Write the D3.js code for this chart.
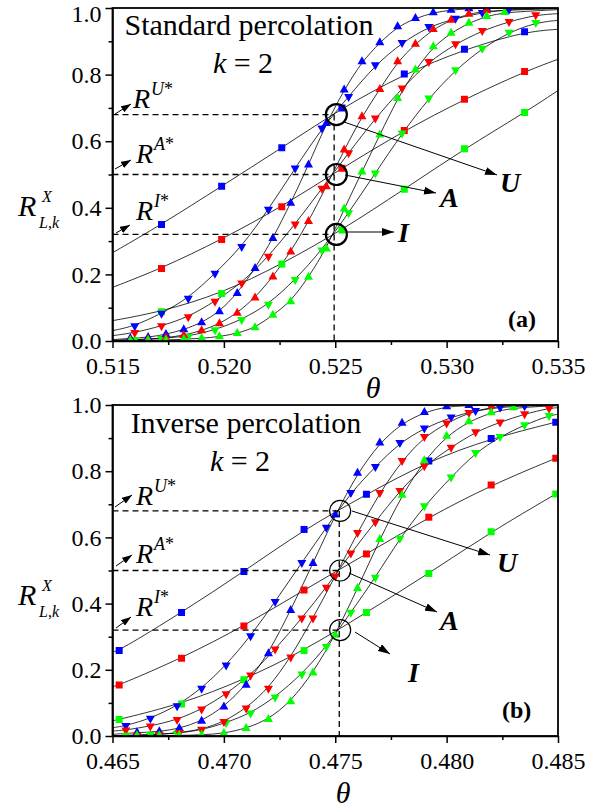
<!DOCTYPE html>
<html><head><meta charset="utf-8">
<script src="https://cdn.jsdelivr.net/npm/d3@7"></script>
<style>
body{margin:0;background:#fff}
svg{display:block}
svg text{font-family:"Liberation Serif","Tinos","Times New Roman",Times,serif !important;fill:#000}
</style>
</head><body>
<svg id="c" width="604" height="812"></svg>
<script>
// ---------------- DATA ----------------
const topThetaTicks = [0.515, 0.520, 0.525, 0.530, 0.535];
const botThetaTicks = [0.465, 0.470, 0.475, 0.480, 0.485];
const rTicks = [0.0, 0.2, 0.4, 0.6, 0.8, 1.0];
const rStar = [0.68, 0.50, 0.32];           // U*, A*, I*
const starNames = ["U", "A", "I"];
const topThetaStar = 0.52495;
const botThetaStar = 0.47518;

// Top panel (standard percolation): [theta, R]
const topBlueSq = [[0.5172,0.350],[0.5199,0.465],[0.5226,0.580],[0.5253,0.700],[0.5281,0.802],[0.5308,0.876],[0.5335,0.929]];
const topRedSq  = [[0.5172,0.218],[0.5199,0.305],[0.5226,0.403],[0.5253,0.519],[0.5281,0.632],[0.5308,0.726],[0.5335,0.809]];
const topGreenSq= [[0.5172,0.088],[0.5199,0.143],[0.5226,0.231],[0.5253,0.333],[0.5281,0.456],[0.5308,0.577],[0.5335,0.686]];
const topBlueDn = [[0.5160,0.045],[0.5172,0.083],[0.5184,0.128],[0.5196,0.203],[0.5208,0.283],[0.5220,0.395],[0.5232,0.519],[0.5244,0.639],[0.5256,0.734],[0.5268,0.829],[0.5280,0.896],[0.5292,0.944],[0.5304,0.969],[0.5316,0.986],[0.5328,0.996]];
const topRedDn  = [[0.5160,0.025],[0.5172,0.045],[0.5184,0.072],[0.5196,0.119],[0.5208,0.174],[0.5220,0.254],[0.5232,0.351],[0.5244,0.458],[0.5256,0.565],[0.5268,0.669],[0.5280,0.759],[0.5292,0.839],[0.5304,0.892],[0.5316,0.932],[0.5328,0.959],[0.5340,0.979]];
const topGreenDn= [[0.5160,0.004],[0.5172,0.008],[0.5184,0.014],[0.5196,0.033],[0.5208,0.064],[0.5220,0.110],[0.5232,0.184],[0.5244,0.273],[0.5256,0.385],[0.5268,0.504],[0.5280,0.624],[0.5292,0.729],[0.5304,0.814],[0.5316,0.879],[0.5328,0.927],[0.5340,0.956]];
const topBlueUp = [[0.5158,0.008],[0.5166,0.011],[0.5174,0.020],[0.5182,0.034],[0.5190,0.055],[0.5198,0.088],[0.5206,0.143],[0.5214,0.218],[0.5222,0.308],[0.5230,0.414],[0.5238,0.529],[0.5246,0.654],[0.5254,0.754],[0.5262,0.839],[0.5270,0.896],[0.5278,0.944],[0.5286,0.969],[0.5294,0.986],[0.5302,0.994],[0.5310,0.998],[0.5318,0.999]];
const topRedUp  = [[0.5158,0.003],[0.5166,0.005],[0.5174,0.010],[0.5182,0.017],[0.5190,0.031],[0.5198,0.052],[0.5206,0.084],[0.5214,0.130],[0.5222,0.193],[0.5230,0.268],[0.5238,0.359],[0.5246,0.464],[0.5254,0.574],[0.5262,0.674],[0.5270,0.756],[0.5278,0.839],[0.5286,0.892],[0.5294,0.936],[0.5302,0.964],[0.5310,0.982],[0.5318,0.992]];
const topGreenUp= [[0.5158,0.001],[0.5166,0.002],[0.5174,0.003],[0.5182,0.005],[0.5190,0.008],[0.5198,0.013],[0.5206,0.023],[0.5214,0.040],[0.5222,0.078],[0.5230,0.118],[0.5238,0.192],[0.5246,0.277],[0.5254,0.397],[0.5262,0.508],[0.5270,0.619],[0.5278,0.729],[0.5286,0.814],[0.5294,0.884],[0.5302,0.925],[0.5310,0.955],[0.5318,0.975],[0.5326,0.987]];
// fitted-curve values at the left / right edges of the top panel
const topFitEdges = {
  blueSq:[0.265,0.936], redSq:[0.161,0.846], greenSq:[0.061,0.752],
  blueDn:[0.031,0.999], redDn:[0.016,0.983], greenDn:[0.002,0.963],
  blueUp:[0.004,1.0],   redUp:[0.001,0.998], greenUp:[0.0005,0.995]
};

// Bottom panel (inverse percolation): [theta, R]
const botBlueSq = [[0.4653,0.258],[0.4681,0.373],[0.4709,0.497],[0.4736,0.624],[0.4764,0.730],[0.4792,0.831],[0.4820,0.899],[0.4849,0.948]];
const botRedSq  = [[0.4653,0.154],[0.4681,0.235],[0.4709,0.332],[0.4736,0.441],[0.4764,0.550],[0.4792,0.661],[0.4820,0.758],[0.4849,0.839]];
const botGreenSq= [[0.4653,0.050],[0.4681,0.097],[0.4709,0.170],[0.4736,0.258],[0.4764,0.373],[0.4792,0.491],[0.4820,0.617],[0.4849,0.731]];
const botBlueDn = [[0.4656,0.031],[0.4667,0.053],[0.4679,0.091],[0.4690,0.144],[0.4701,0.214],[0.4712,0.302],[0.4723,0.406],[0.4735,0.524],[0.4746,0.630],[0.4757,0.735],[0.4768,0.814],[0.4779,0.886],[0.4790,0.930],[0.4802,0.963],[0.4813,0.983],[0.4824,0.993],[0.4835,0.997]];
const botRedDn  = [[0.4656,0.018],[0.4667,0.030],[0.4679,0.049],[0.4690,0.081],[0.4701,0.127],[0.4712,0.184],[0.4723,0.262],[0.4735,0.356],[0.4746,0.449],[0.4757,0.552],[0.4768,0.647],[0.4779,0.741],[0.4790,0.816],[0.4802,0.872],[0.4813,0.919],[0.4824,0.948],[0.4835,0.973],[0.4846,0.990]];
const botGreenDn= [[0.4656,0.002],[0.4667,0.004],[0.4679,0.008],[0.4690,0.018],[0.4701,0.040],[0.4712,0.069],[0.4723,0.117],[0.4735,0.187],[0.4746,0.270],[0.4757,0.373],[0.4768,0.479],[0.4779,0.597],[0.4790,0.695],[0.4802,0.782],[0.4813,0.856],[0.4824,0.904],[0.4835,0.940],[0.4846,0.968]];
const botBlueUp = [[0.4661,0.010],[0.4671,0.013],[0.4680,0.023],[0.4690,0.045],[0.4700,0.088],[0.4710,0.154],[0.4720,0.249],[0.4730,0.380],[0.4740,0.522],[0.4750,0.668],[0.4760,0.794],[0.4770,0.886],[0.4780,0.945],[0.4790,0.978],[0.4800,0.995],[0.4810,0.999]];
const botRedUp  = [[0.4661,0.002],[0.4671,0.005],[0.4680,0.010],[0.4690,0.020],[0.4700,0.043],[0.4710,0.084],[0.4720,0.144],[0.4730,0.238],[0.4740,0.356],[0.4750,0.483],[0.4760,0.614],[0.4770,0.735],[0.4780,0.832],[0.4790,0.904],[0.4800,0.945],[0.4810,0.977],[0.4820,0.993],[0.4830,0.999]];
const botGreenUp= [[0.4661,0.001],[0.4671,0.001],[0.4680,0.002],[0.4690,0.003],[0.4700,0.008],[0.4710,0.023],[0.4720,0.050],[0.4730,0.104],[0.4740,0.191],[0.4750,0.305],[0.4760,0.446],[0.4770,0.594],[0.4780,0.728],[0.4790,0.832],[0.4800,0.906],[0.4810,0.950],[0.4820,0.977],[0.4830,0.992]];
const botFitEdges = {
  blueSq:[0.254,0.950], redSq:[0.149,0.842], greenSq:[0.046,0.735],
  blueDn:[0.025,0.999], redDn:[0.015,0.992], greenDn:[0.001,0.972],
  blueUp:[0.005,1.0],   redUp:[0.001,1.0],   greenUp:[0.0005,0.998]
};

// ---------------- DRAWING ----------------
const FONT = "'Liberation Serif','Tinos','Times New Roman',Times,serif";
const svg = d3.select("#c").style("font-family", FONT);
const defs = svg.append("defs");
defs.append("marker").attr("id","ah").attr("viewBox","0 0 12 8")
  .attr("refX",12).attr("refY",4).attr("markerWidth",12).attr("markerHeight",8)
  .attr("markerUnits","userSpaceOnUse").attr("orient","auto")
  .append("path").attr("d","M0,0L12,4L0,8Z").attr("fill","#000");
defs.append("marker").attr("id","ahs").attr("viewBox","0 0 10 7")
  .attr("refX",10).attr("refY",3.5).attr("markerWidth",10).attr("markerHeight",7)
  .attr("markerUnits","userSpaceOnUse").attr("orient","auto")
  .append("path").attr("d","M0,0L10,3.5L0,7Z").attr("fill","#000");

const COL = {blue:"#0000ff", red:"#ff0000", green:"#00ff00"};

function tri(w,h){ return `M0,${-h*2/3}L${w/2},${h/3}L${-w/2},${h/3}Z`; }
function sq(s){ return `M${-s/2},${-s/2}h${s}v${s}h${-s}Z`; }

function drawPanel(cfg){
  const g = svg.append("g");
  const x = d3.scaleLinear().domain(cfg.xDomain).range([112.5, 558]);
  const y = d3.scaleLinear().domain([0,1]).range(cfg.yRange);
  const clipId = "clip"+cfg.id;
  defs.append("clipPath").attr("id",clipId).append("rect")
    .attr("x",x.range()[0]).attr("y",y(1)).attr("width",x.range()[1]-x.range()[0]).attr("height",y(0)-y(1));

  const [x0,x1] = cfg.xDomain;
  const minorX = d3.range(0,4).map(i => cfg.xTicks[i] + 0.0025);
  const minorY = [0.1,0.3,0.5,0.7,0.9];
  const xAx = d3.axisBottom(x).tickValues(cfg.xTicks).tickFormat(d3.format(".3f")).tickSize(7).tickSizeOuter(0).tickPadding(8);
  const gx = g.append("g").attr("transform",`translate(0,${y(0)})`).call(xAx);
  g.append("g").attr("transform",`translate(0,${y(0)})`)
    .call(d3.axisBottom(x).tickValues(minorX).tickFormat("").tickSize(4).tickSizeOuter(0))
    .call(a=>a.select(".domain").remove());
  const yAx = d3.axisLeft(y).tickValues(rTicks).tickFormat(d3.format(".1f")).tickSize(7).tickSizeOuter(0).tickPadding(4);
  const gy = g.append("g").attr("transform",`translate(${x.range()[0]},0)`).call(yAx);
  g.append("g").attr("transform",`translate(${x.range()[0]},0)`)
    .call(d3.axisLeft(y).tickValues(minorY).tickFormat("").tickSize(4).tickSizeOuter(0))
    .call(a=>a.select(".domain").remove());
  g.selectAll("g").attr("font-family", null).attr("font-size", null);
  g.selectAll(".tick line").attr("stroke","#000").attr("stroke-width",1.5);
  g.selectAll(".tick text").attr("font-size",24).style("font-family",FONT).attr("fill","#000");
  gx.selectAll(".tick text").attr("dy","0.75em");
  if (cfg.id === "a") gy.selectAll(".tick text").filter(d=>d===1).attr("dy","0.57em");
  g.selectAll(".domain").attr("stroke","#000").attr("stroke-width",1.5);

  const plot = g.append("g").attr("clip-path",`url(#${clipId})`);
  const line = d3.line().x(d=>x(d[0])).y(d=>y(d[1])).curve(d3.curveBasis);

  cfg.series.forEach(s=>{
    const pts = [[x0, cfg.edges[s.key][0]], ...s.data, [x1, cfg.edges[s.key][1]]];
    plot.append("path").attr("d",line(pts)).attr("fill","none").attr("stroke","#000").attr("stroke-width",0.8);
  });
  cfg.series.forEach(s=>{
    const p = s.shape==="sq" ? sq(7) : tri(9,8);
    plot.selectAll(null).data(s.data).enter().append("path")
      .attr("d",p).attr("fill",COL[s.color])
      .attr("transform",d=>`translate(${x(d[0])},${y(d[1])})${s.shape==="dn"?" rotate(180)":""}`);
  });

  const xs = x(cfg.thetaStar);
  rStar.forEach(r=>{
    g.append("line").attr("x1",x.range()[0]).attr("x2",xs).attr("y1",y(r)).attr("y2",y(r))
      .attr("stroke","#000").attr("stroke-width",1.3).attr("stroke-dasharray","6,4");
  });
  g.append("line").attr("x1",xs).attr("x2",xs).attr("y1",y(rStar[0])).attr("y2",y(0))
    .attr("stroke","#000").attr("stroke-width",1.3).attr("stroke-dasharray","6,4");
  rStar.forEach(r=>{
    g.append("circle").attr("cx",x(cfg.circleTheta)).attr("cy",y(r)).attr("r",10.5)
      .attr("fill","none").attr("stroke","#000").attr("stroke-width",cfg.circleW);
  });

  g.append("rect").attr("x",x.range()[0]).attr("y",y(1)).attr("width",x.range()[1]-x.range()[0]).attr("height",y(0)-y(1))
    .attr("fill","none").attr("stroke","#000").attr("stroke-width",1.8);

  g.append("text").attr("x",cfg.titleX).attr("y",cfg.titleY).attr("text-anchor","middle").attr("font-size",30).text(cfg.title);
  const kt = g.append("text").attr("x",cfg.titleX-6).attr("y",cfg.titleY+38).attr("text-anchor","middle").attr("font-size",30);
  kt.append("tspan").attr("font-style","italic").text("k");
  kt.append("tspan").text(" = 2");

  cfg.rLabels.forEach((L,i)=>{
    g.append("line").attr("x1",L.ax1).attr("y1",L.ay1).attr("x2",L.ax2).attr("y2",L.ay2)
      .attr("stroke","#000").attr("stroke-width",1).attr("marker-end","url(#ahs)");
    const t = g.append("text").attr("x",L.x).attr("y",L.y).attr("font-size",28);
    t.append("tspan").attr("font-style","italic").text("R");
    t.append("tspan").attr("font-size",18).attr("dy",-13).attr("dx",1).attr("font-style","italic").text(starNames[i]);
    t.append("tspan").attr("font-size",18).text("*");
  });

  cfg.bigArrows.forEach((A,i)=>{
    g.append("line").attr("x1",A.x1).attr("y1",A.y1).attr("x2",A.x2).attr("y2",A.y2)
      .attr("stroke","#000").attr("stroke-width",1).attr("marker-end","url(#ah)");
    g.append("text").attr("x",A.tx).attr("y",A.ty).attr("font-size",28).attr("font-weight","bold").attr("font-style","italic").text(starNames[i]);
  });

  g.append("text").attr("x",cfg.letterX).attr("y",cfg.letterY).attr("font-size",24).attr("font-weight","bold").text(cfg.letter);

  g.append("text").attr("x",cfg.thetaX).attr("y",cfg.thetaY).attr("text-anchor","middle").attr("font-size",30).attr("font-style","italic").text("θ");
  const yl = g.append("g").attr("transform",`translate(18,${cfg.yLabY})`);
  yl.append("text").attr("x",0).attr("y",0).attr("font-size",30).attr("font-style","italic").text("R");
  yl.append("text").attr("x",24).attr("y",-14).attr("font-size",16).attr("font-style","italic").text("X");
  const sub = yl.append("text").attr("x",21).attr("y",12).attr("font-size",16).attr("font-style","italic");
  sub.append("tspan").text("L");
  sub.append("tspan").attr("font-style","normal").text(",");
  sub.append("tspan").text("k");
}

function seriesSet(bs,rs,gs,bd,rd,gd,bu,ru,gu,redUpShape){
  return [
    {key:"blueSq",data:bs,color:"blue",shape:"sq"},
    {key:"redSq",data:rs,color:"red",shape:"sq"},
    {key:"greenSq",data:gs,color:"green",shape:"sq"},
    {key:"blueDn",data:bd,color:"blue",shape:"dn"},
    {key:"redDn",data:rd,color:"red",shape:"dn"},
    {key:"greenDn",data:gd,color:"green",shape:"dn"},
    {key:"blueUp",data:bu,color:"blue",shape:"up"},
    {key:"redUp",data:ru,color:"red",shape:redUpShape},
    {key:"greenUp",data:gu,color:"green",shape:"up"}
  ];
}

drawPanel({
  id:"a", xDomain:[0.515,0.535], yRange:[341,8], xTicks:topThetaTicks,
  series:seriesSet(topBlueSq,topRedSq,topGreenSq,topBlueDn,topRedDn,topGreenDn,topBlueUp,topRedUp,topGreenUp,"up"),
  edges:topFitEdges, thetaStar:topThetaStar, circleTheta:0.52505, circleW:2.2,
  title:"Standard percolation", titleX:249, titleY:35,
  rLabels:[
    {x:133,y:108,ax1:115,ay1:114,ax2:131,ay2:104},
    {x:136,y:163,ax1:115,ay1:169,ax2:131,ay2:160},
    {x:136,y:220,ax1:116,ay1:233,ax2:130,ay2:225}
  ],
  bigArrows:[
    {x1:344,y1:122,x2:497,y2:175,tx:500,ty:192},
    {x1:345,y1:175,x2:436,y2:193,tx:440,ty:207},
    {x1:346,y1:232,x2:394,y2:232,tx:398,ty:242}
  ],
  letter:"(a)", letterX:508, letterY:327,
  thetaX:373, thetaY:398, yLabY:216
});

drawPanel({
  id:"b", xDomain:[0.465,0.485], yRange:[736,405], xTicks:botThetaTicks,
  series:seriesSet(botBlueSq,botRedSq,botGreenSq,botBlueDn,botRedDn,botGreenDn,botBlueUp,botRedUp,botGreenUp,"dn"),
  edges:botFitEdges, thetaStar:botThetaStar, circleTheta:0.47522, circleW:1.2,
  title:"Inverse percolation", titleX:246, titleY:433,
  rLabels:[
    {x:136,y:505,ax1:115,ay1:507,ax2:132,ay2:495},
    {x:136,y:563,ax1:116,ay1:566,ax2:132,ay2:555},
    {x:136,y:616,ax1:116,ay1:628,ax2:131,ay2:617}
  ],
  bigArrows:[
    {x1:352,y1:511,x2:490,y2:555,tx:497,ty:572},
    {x1:349,y1:573,x2:437,y2:612,tx:440,ty:630},
    {x1:355,y1:632,x2:390,y2:654,tx:408,ty:682}
  ],
  letter:"(b)", letterX:502, letterY:718,
  thetaX:343, thetaY:803, yLabY:605
});
</script>
</body></html>
